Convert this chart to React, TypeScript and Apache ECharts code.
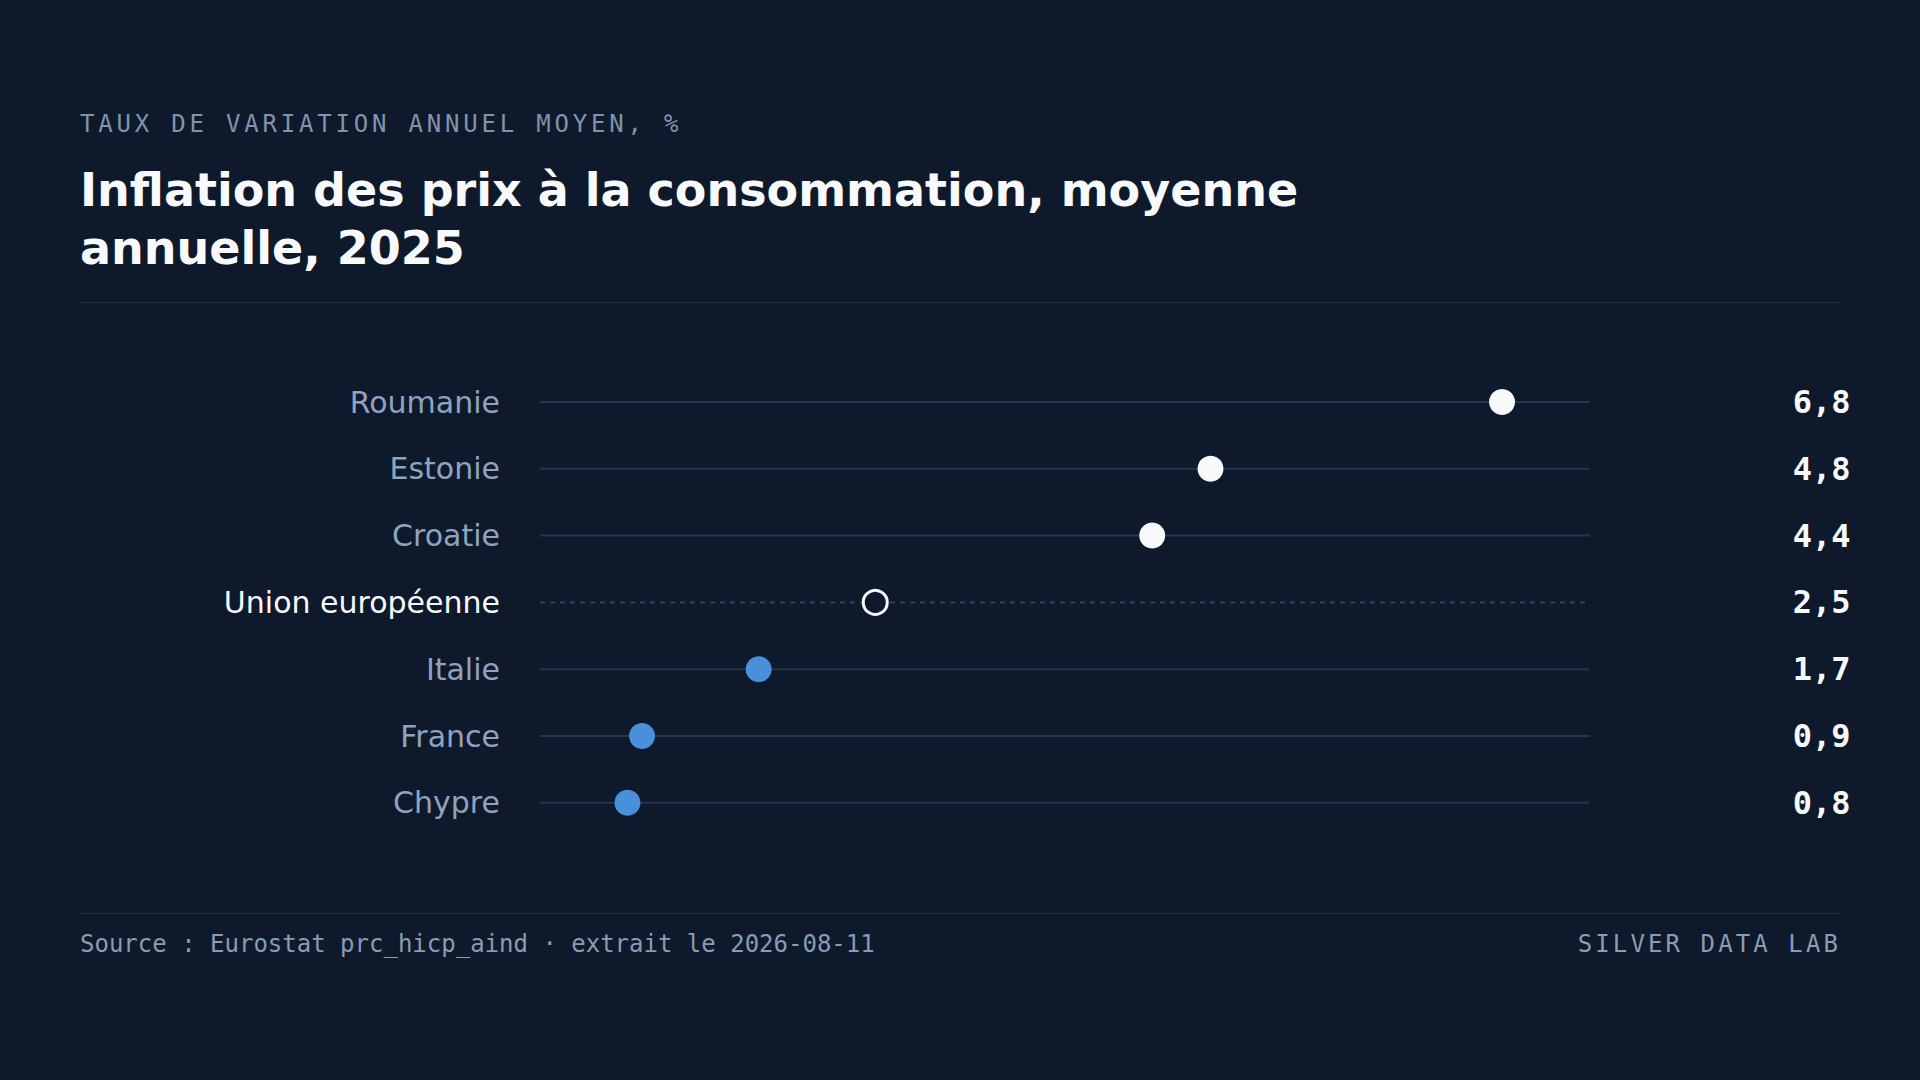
import { useEffect, useRef } from "react";
import * as echarts from "echarts";

// Inflation annuelle moyenne 2025, du haut vers le bas
const countries = ["Roumanie", "Estonie", "Croatie", "Union européenne", "Italie", "France", "Chypre"];
const inflation = [6.8, 4.8, 4.4, 2.5, 1.7, 0.9, 0.8];
const dotKind = ["high", "high", "high", "eu", "low", "low", "low"];

const X_MIN = 0.2;
const X_MAX = 7.4;

const BG = "#0e1a2b";
const RULE = "#22354d";
const LABEL = "#8ea3bf";
const WHITE = "#f8f9fb";
const BLUE = "#4a8fd9";
const SANS = "DejaVu Sans";
const MONO = "DejaVu Sans Mono";

const SUBTITLE = "TAUX DE VARIATION ANNUEL MOYEN, %";
const SOURCE = "Source : Eurostat prc_hicp_aind · extrait le 2026-08-11";
const BRAND = "SILVER DATA LAB";

export default function App() {
  const chartRef = useRef<HTMLDivElement>(null);

  useEffect(() => {
    if (!chartRef.current) return;
    const chart = echarts.init(chartRef.current, null, { renderer: "svg" });

    const fmt = (v: number) => v.toFixed(1).replace(".", ",");

    const option = {
      animation: false,
      backgroundColor: BG,
      grid: { left: 540, width: 1049.5, top: 368.6, height: 467.6 },
      xAxis: {
        type: "value",
        min: X_MIN,
        max: X_MAX,
        show: false,
      },
      yAxis: [
        {
          type: "category",
          data: countries,
          inverse: true,
          axisLine: { show: false },
          axisTick: { show: false },
          splitLine: { show: false },
          axisLabel: {
            margin: 40,
            fontFamily: SANS,
            fontSize: 30,
            color: LABEL,
            formatter: (v: string) => (v === "Union européenne" ? `{eu|${v}}` : v),
            rich: { eu: { color: WHITE, fontFamily: SANS, fontSize: 30 } },
          },
        },
        {
          type: "category",
          data: countries,
          inverse: true,
          position: "right",
          axisLine: { show: false },
          axisTick: { show: false },
          splitLine: { show: false },
          axisLabel: {
            margin: 261,
            align: "right",
            fontFamily: MONO,
            fontWeight: "bold",
            fontSize: 32,
            color: WHITE,
            formatter: (_v: string, idx: number) => fmt(inflation[idx]),
          },
        },
      ],
      series: [
        {
          type: "custom",
          z: 1,
          silent: true,
          data: countries.map((_c, i) => [X_MIN, i]),
          renderItem: (_params: any, api: any) => {
            const i = api.value(1);
            const a = api.coord([X_MIN, i]);
            const b = api.coord([X_MAX, i]);
            const isEu = dotKind[i] === "eu";
            return {
              type: "line",
              shape: { x1: a[0], y1: a[1], x2: b[0], y2: b[1] },
              style: {
                stroke: isEu ? "#2a3f5a" : RULE,
                lineWidth: 2,
                lineDash: isEu ? [5, 5] : null,
              },
            };
          },
        },
        {
          type: "scatter",
          z: 3,
          symbol: "circle",
          data: inflation.map((v, i) => {
            const kind = dotKind[i];
            if (kind === "eu") {
              return {
                value: [v, i],
                symbolSize: 24,
                itemStyle: { color: BG, borderColor: WHITE, borderWidth: 3, opacity: 1 },
              };
            }
            return {
              value: [v, i],
              symbolSize: 26,
              itemStyle: { color: kind === "high" ? WHITE : BLUE, opacity: 1 },
            };
          }),
        },
      ],
      graphic: [
        {
          type: "text",
          x: 80,
          y: 123.5,
          style: {
            text: SUBTITLE,
            font: `24px "${MONO}"`,
            fill: "#8093ad",
            verticalAlign: "middle",
          },
        },
        {
          type: "text",
          x: 80,
          y: 161,
          style: {
            text: "Inflation des prix à la consommation, moyenne\nannuelle, 2025",
            font: `bold 46px "${SANS}"`,
            lineHeight: 58,
            fill: WHITE,
            verticalAlign: "top",
          },
        },
        {
          type: "line",
          shape: { x1: 80, y1: 302.5, x2: 1840, y2: 302.5 },
          style: { stroke: "#1a2a3d", lineWidth: 1.5 },
        },
        {
          type: "line",
          shape: { x1: 80, y1: 913.5, x2: 1840, y2: 913.5 },
          style: { stroke: "#1a2a3d", lineWidth: 1.5 },
        },
        {
          type: "text",
          x: 80,
          y: 944,
          style: {
            text: SOURCE,
            font: `24px "${MONO}"`,
            fill: "#8a9bb3",
            verticalAlign: "middle",
          },
        },
        {
          type: "text",
          x: 1841,
          y: 944,
          style: {
            text: BRAND,
            font: `24px "${MONO}"`,
            fill: "#8a9bb3",
            align: "right",
            verticalAlign: "middle",
          },
        },
      ],
    };

    chart.setOption(option);

    // letter-spacing is not an ECharts text option: set it on the svg text nodes
    chartRef.current.querySelectorAll("text").forEach((t) => {
      const s = t.textContent;
      if (s === SUBTITLE) t.style.letterSpacing = "3.8px";
      if (s === BRAND) t.style.letterSpacing = "3.1px";
    });

    return () => {
      chart.dispose();
    };
  }, []);

  return (
    <div
      ref={chartRef}
      style={{ position: "fixed", left: 0, top: 0, width: 1920, height: 1080 }}
    />
  );
}
